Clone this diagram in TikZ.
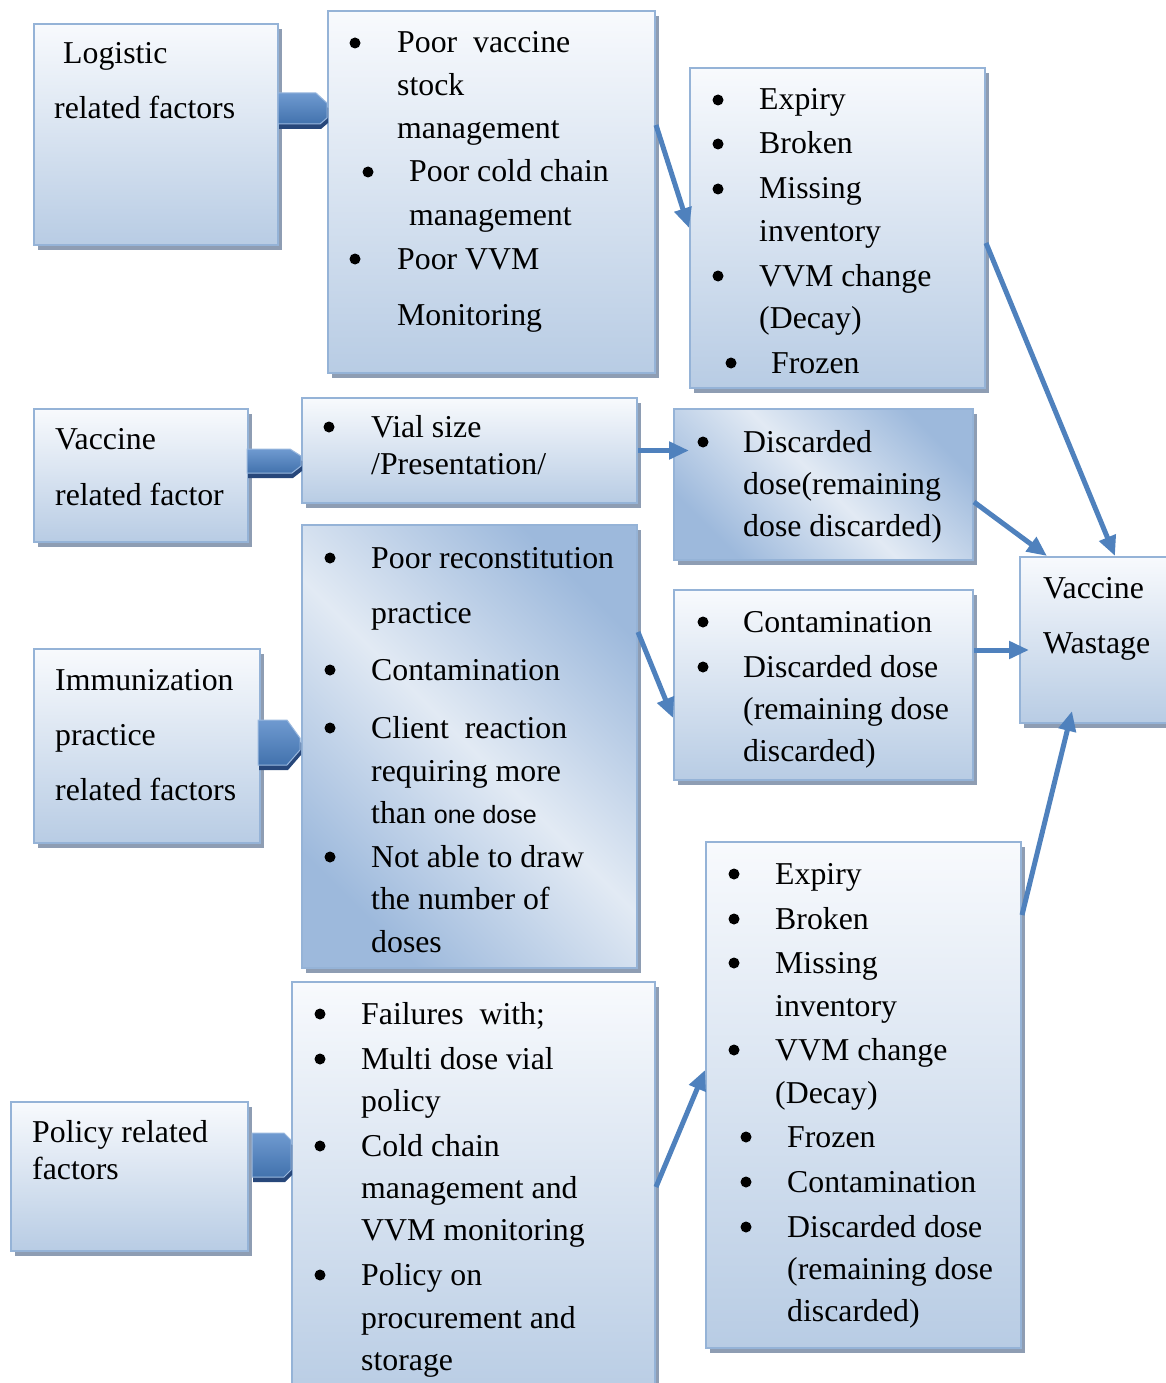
\documentclass[tikz,border=0pt]{standalone}
\usepackage{fontspec}
\setmainfont{Liberation Serif}
\newfontfamily\sansf{Liberation Sans}
\usetikzlibrary{arrows.meta,shadows,calc}
\definecolor{bord}{HTML}{95B3D7}
\definecolor{boxbot}{HTML}{B8CCE4}
\definecolor{boxtop}{HTML}{F8FAFD}
\definecolor{boxdark}{HTML}{9DB9DC}
\definecolor{boxlight}{HTML}{E2EAF4}
\definecolor{arr}{HTML}{4F81BD}
\definecolor{shad}{HTML}{8E9DB3}
\definecolor{barTop}{HTML}{6F9AD0}
\definecolor{barBot}{HTML}{4272AD}
\definecolor{barShad}{HTML}{27477A}
\newcommand\bx[6]{\node[#6, minimum width={#4-#2}, minimum height={#5-#3}] (#1) at ({(#2+#4)/2},{(#3+#5)/2}) {};}
\newcommand\tl[4]{\node[txt] (#1) at (#2,{#3+10}) {#4};}
\newcommand\bl[3]{\node[bul] (#1) at (#2,#3) {};}
\begin{document}
\begin{tikzpicture}[x=1pt,y=-1pt,
  box/.style={draw=bord, line width=2pt, top color=boxtop, bottom color=boxbot, inner sep=0pt,
    drop shadow={shadow xshift=4pt, shadow yshift=-5pt, fill=shad, opacity=1}},
  diagbox/.style={box, left color=boxdark, right color=boxdark, middle color=boxlight, shading angle=-45},
  txt/.style={anchor=base west, inner sep=0pt, font=\fontsize{31.8}{38}\selectfont},
  bul/.style={circle, fill=black, inner sep=0pt, minimum size=11pt},
  blockar/.style={top color=barTop, bottom color=barBot, draw=barTop!70!white, line width=1pt,
    drop shadow={shadow xshift=1pt, shadow yshift=-5pt, fill=barShad, opacity=1}},
  conn/.style={draw=arr, line width=5pt, -{Triangle[length=20pt,width=17pt]}}]
\useasboundingbox (0,0) rectangle (1166,1383);
\clip (0,0) rectangle (1166,1383);

% boxes
\bx{log}{34}{24}{278}{245}{box}
\bx{aa}{328}{11}{655}{373}{box}
\bx{ab}{690}{68}{985}{388}{box}
\bx{vac}{34}{409}{248}{542}{box}
\bx{vial}{302}{398}{637}{503}{box}
\bx{disc}{674}{409}{973}{560}{diagbox}
\bx{wast}{1020}{557}{1172}{723}{box}
\bx{imm}{34}{649}{260}{843}{box}
\bx{recon}{302}{525}{637}{968}{diagbox}
\bx{cont}{674}{590}{973}{780}{box}
\bx{exb}{706}{842}{1021}{1348}{box}
\bx{pol}{11}{1102}{248}{1251}{box}
\bx{fail}{292}{982}{655}{1400}{box}

% block arrows
\path[blockar] (278,93) -- (316,93) -- (327,103) -- (327,118) -- (320,124) -- (278,124) -- cycle;
\path[blockar] (247,449) -- (290,449) -- (301,456) -- (301,466) -- (292,473) -- (247,473) -- cycle;
\path[blockar] (258,720) -- (287,720) -- (300,738) -- (300,750) -- (287,765) -- (258,765) -- cycle;
\path[blockar] (252,1133) -- (284,1133) -- (291,1140) -- (291,1170) -- (284,1177) -- (252,1177) -- cycle;

% connectors
\draw[conn] (aa.east |- 0,125) -- (ab.west |- 0,228);
\draw[conn] (vial.east) -- ($(disc.west |- vial.east)+(16,0)$);
\draw[conn] (disc.east |- 0,502) -- (1047,0 |- wast.north);
\draw[conn] (ab.east |- 0,243) -- (1115,0 |- wast.north);
\draw[conn] (recon.east |- 0,632) -- (cont.west |- 0,718);
\draw[conn] (cont.east |- 0,650) -- ($(wast.west |- 0,650)+(10,0)$);
\draw[conn] (exb.east |- 0,915) -- ($(1072,0 |- wast.south)+(0,-13)$);
\draw[conn] (fail.east |- 0,1187) -- (exb.west |- 0,1070);

% texts
\tl{l1}{63}{54}{Logistic}
\tl{l2}{54}{109}{related factors}

\bl{ab1}{355}{43}\tl{at1}{397}{43}{Poor\ \ vaccine}
\tl{at2}{397}{86}{stock}
\tl{at3}{397}{129}{management}
\bl{ab2}{368}{172}\tl{at4}{409}{172}{Poor cold chain}
\tl{at5}{409}{215}{management}
\bl{ab3}{355}{259}\tl{at6}{397}{259}{Poor VVM}
\tl{at7}{397}{315}{Monitoring}

\bl{bb1}{718}{100}\tl{bt1}{759}{100}{Expiry}
\bl{bb2}{718}{144}\tl{bt2}{759}{144}{Broken}
\bl{bb3}{718}{189}\tl{bt3}{759}{189}{Missing}
\tl{bt4}{759}{231}{inventory}
\bl{bb4}{718}{276}\tl{bt5}{759}{276}{VVM change}
\tl{bt6}{759}{318}{(Decay)}
\bl{bb5}{731}{363}\tl{bt7}{771}{363}{Frozen}

\tl{v1}{55}{439}{Vaccine}
\tl{v2}{55}{495}{related factor}

\bl{cb1}{329}{427}\tl{ct1}{371}{427}{Vial size}
\tl{ct2}{371}{464}{/Presentation/}

\bl{db1}{703}{442}\tl{dt1}{743}{442}{Discarded}
\tl{dt2}{743}{484}{dose(remaining}
\tl{dt3}{743}{526}{dose discarded)}

\tl{w1}{1043}{588}{Vaccine}
\tl{w2}{1043}{643}{Wastage}

\tl{i1}{55}{680}{Immunization}
\tl{i2}{55}{735}{practice}
\tl{i3}{55}{790}{related factors}

\bl{eb1}{330}{558}\tl{et1}{371}{558}{Poor reconstitution}
\tl{et2}{371}{613}{practice}
\bl{eb2}{330}{670}\tl{et3}{371}{670}{Contamination}
\bl{eb3}{330}{728}\tl{et4}{371}{728}{Client\ \ reaction}
\tl{et5}{371}{771}{requiring more}
\tl{et6}{371}{813}{than {\sansf\fontsize{25}{30}\selectfont one dose}}
\bl{eb4}{330}{857}\tl{et7}{371}{857}{Not able to draw}
\tl{et8}{371}{899}{the number of}
\tl{et9}{371}{942}{doses}

\bl{fb1}{703}{622}\tl{ft1}{743}{622}{Contamination}
\bl{fb2}{703}{667}\tl{ft2}{743}{667}{Discarded dose}
\tl{ft3}{743}{709}{(remaining dose}
\tl{ft4}{743}{751}{discarded)}

\bl{gb1}{734}{874}\tl{gt1}{775}{874}{Expiry}
\bl{gb2}{734}{919}\tl{gt2}{775}{919}{Broken}
\bl{gb3}{734}{963}\tl{gt3}{775}{963}{Missing}
\tl{gt4}{775}{1006}{inventory}
\bl{gb4}{734}{1050}\tl{gt5}{775}{1050}{VVM change}
\tl{gt6}{775}{1093}{(Decay)}
\bl{gb5}{746}{1137}\tl{gt7}{787}{1137}{Frozen}
\bl{gb6}{746}{1182}\tl{gt8}{787}{1182}{Contamination}
\bl{gb7}{746}{1227}\tl{gt9}{787}{1227}{Discarded dose}
\tl{gt10}{787}{1269}{(remaining dose}
\tl{gt11}{787}{1311}{discarded)}

\tl{p1}{32}{1132}{Policy related}
\tl{p2}{32}{1169}{factors}

\bl{hb1}{320}{1014}\tl{ht1}{361}{1014}{Failures\ \ with;}
\bl{hb2}{320}{1059}\tl{ht2}{361}{1059}{Multi dose vial}
\tl{ht3}{361}{1101}{policy}
\bl{hb3}{320}{1146}\tl{ht4}{361}{1146}{Cold chain}
\tl{ht5}{361}{1188}{management and}
\tl{ht6}{361}{1230}{VVM monitoring}
\bl{hb4}{320}{1275}\tl{ht7}{361}{1275}{Policy on}
\tl{ht8}{361}{1318}{procurement and}
\tl{ht9}{361}{1360}{storage}
\end{tikzpicture}
\end{document}
